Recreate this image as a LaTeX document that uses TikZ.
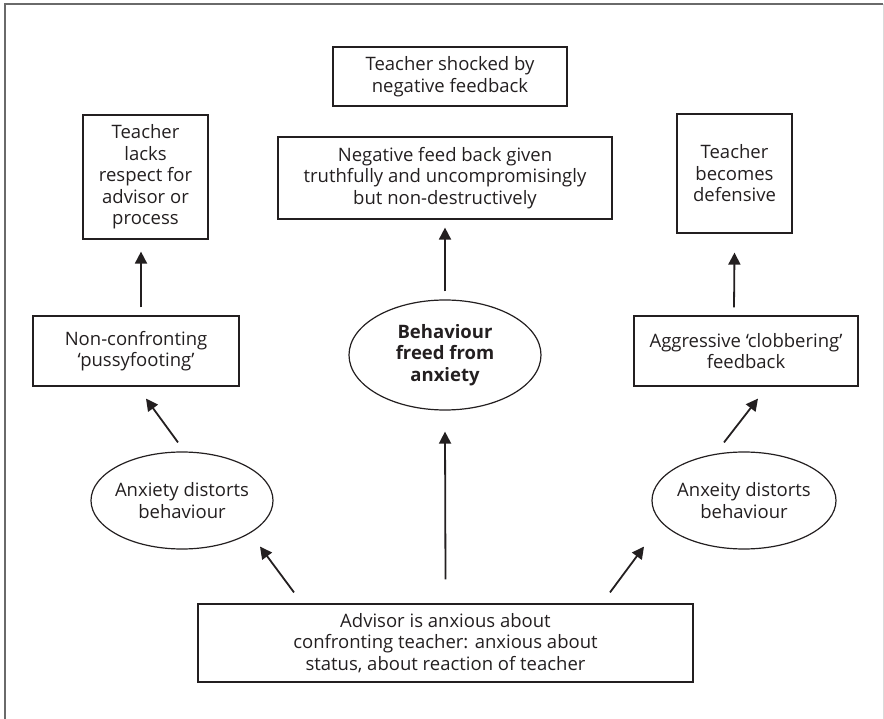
\documentclass[tikz,border=0pt]{standalone}
\usepackage{fontspec}
\setmainfont{Open Sans}
\usetikzlibrary{arrows.meta,shapes.geometric}
\definecolor{ink}{HTML}{231F20}
\definecolor{framegray}{HTML}{6A6A6A}
\definecolor{faintgray}{HTML}{DADADA}
\begin{document}
\begin{tikzpicture}[x=1pt,y=-1pt,
  every node/.style={font=\fontsize{18.5}{21.5}\selectfont, text=ink, align=center, inner sep=0pt},
  box/.style={draw=ink, line width=1.2pt, rectangle},
  oval/.style={draw=ink, line width=1.2pt, ellipse, inner xsep=-14pt},
  arr/.style={draw=ink, line width=1.8pt, -{Triangle[length=12pt,width=12pt]}}
]
\useasboundingbox (0,0) rectangle (884,719);

% outer frame
\draw[framegray, line width=1.2pt] (5,719) -- (5,4) -- (883,4);
\draw[faintgray, line width=1pt] (883,4) -- (883,719);

% top row of outcomes
\node[box, minimum width=125pt, minimum height=124pt] (lacks) at (145.5,177)
  {Teacher\\lacks\\respect for\\advisor or\\process};
\node[box, minimum width=234pt, minimum height=59pt] (shocked) at (450,76.5)
  {Teacher shocked by\\negative feedback};
\node[box, minimum width=334pt, minimum height=82pt] (negfb) at (445,178)
  {Negative feed back given\\truthfully and uncompromisingly\\but non-destructively};
\node[box, minimum width=115pt, minimum height=119pt] (defensive) at (734.5,173.5)
  {Teacher\\becomes\\defensive};

% middle row of behaviours
\node[box, minimum width=206pt, minimum height=70pt] (noncon) at (136,351)
  {Non-confronting\\‘pussyfooting’};
\node[oval, minimum width=192pt, minimum height=110pt] (freed) at (445,355)
  {\bfseries Behaviour\\\bfseries freed from\\\bfseries anxiety};
\node[box, minimum width=224pt, minimum height=70pt] (aggr) at (746,351)
  {Aggressive ‘clobbering’\\feedback};

% anxiety ellipses
\node[oval, minimum width=182pt, minimum height=97pt] (leftell) at (182,500.5)
  {Anxiety distorts\\behaviour};
\node[oval, minimum width=184pt, minimum height=97pt] (rightell) at (744,500.5)
  {Anxeity distorts\\behaviour};

% starting point
\node[box, minimum width=495pt, minimum height=78pt] (advisor) at (445.5,643)
  {Advisor is anxious about\\confronting teacher: anxious about\\status, about reaction of teacher};

% connectors
\draw[arr] ([shift={(5,-8)}]noncon.north) -- ([shift={(-4.5,12)}]lacks.south);
\draw[arr] ([shift={(0,-8)}]freed.north) -- ([shift={(0,8)}]negfb.south);
\draw[arr] ([shift={(-12,-8)}]aggr.north) -- ([shift={(0,19)}]defensive.south);
\draw[arr] ([shift={(-4,-9)}]leftell.north) -- ([shift={(10,12)}]noncon.south);
\draw[arr] ([shift={(-20,-9)}]rightell.north) -- ([shift={(12,12)}]aggr.south);
\draw[arr] ([shift={(-151.5,-11)}]advisor.north) -- ([shift={(78,-3)}]leftell.south);
\draw[arr] ([shift={(164.5,-11)}]advisor.north) -- ([shift={(-100,-3)}]rightell.south);
\draw[arr] ([shift={(0,-24)}]advisor.north) -- ([shift={(0,21)}]freed.south);
\end{tikzpicture}
\end{document}
